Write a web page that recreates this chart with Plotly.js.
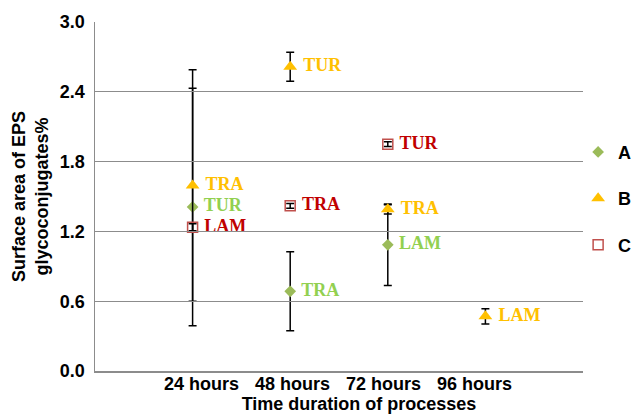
<!DOCTYPE html>
<html>
<head>
<meta charset="utf-8">
<script src="https://cdn.plot.ly/plotly-3.0.1.min.js"></script>
<style>html,body{margin:0;padding:0;background:#fff;}#chart{width:632px;height:417px;}</style>
</head>
<body>
<div id="chart"></div>
<script>
const categories = ['24 hours', '48 hours', '72 hours', '96 hours'];

const seriesA_x = ['24 hours', '48 hours', '72 hours'];
const seriesA_y = [1.41, 0.685, 1.085];
const seriesA_err = [1.02, 0.34, 0.35];
const seriesA_labels = ['TUR', 'TRA', 'LAM'];

const seriesB_x = ['24 hours', '48 hours', '72 hours', '96 hours'];
const seriesB_y = [1.595, 2.615, 1.39, 0.47];
const seriesB_err = [0.995, 0.125, 0.04, 0.065];
const seriesB_labels = ['TRA', 'TUR', 'TRA', 'LAM'];

const seriesC_x = ['24 hours', '48 hours', '72 hours'];
const seriesC_y = [1.235, 1.42, 1.95];
const seriesC_err = [0.03, 0.02, 0.02];
const seriesC_labels = ['LAM', 'TRA', 'TUR'];

const yTicks = [0, 0.6, 1.2, 1.8, 2.4, 3.0];
const yTickText = ['0.0', '0.6', '1.2', '1.8', '2.4', '3.0'];

const labelFont = {family: 'Liberation Serif, Times New Roman, serif', size: 18, weight: 'bold'};
const errStyle = (arr) => ({type: 'data', array: arr, visible: true, color: '#000000', thickness: 1.5, width: 4});

const traces = [
  {
    name: 'A', legendgroup: 'A', type: 'scatter', mode: 'markers+text',
    x: seriesA_x, y: seriesA_y, text: seriesA_labels, texttemplate: '\u00a0%{text}', textposition: 'middle right',
    textfont: Object.assign({color: '#92D050'}, labelFont),
    marker: {symbol: 'diamond', size: 9, color: '#9BBB59'},
    error_y: errStyle(seriesA_err), cliponaxis: false
  },
  {
    name: 'B', legendgroup: 'B', type: 'scatter', mode: 'markers+text',
    x: seriesB_x, y: seriesB_y, text: seriesB_labels, texttemplate: '\u00a0%{text}', textposition: 'middle right',
    textfont: Object.assign({color: '#FFC000'}, labelFont),
    marker: {symbol: 'triangle-up', size: 12, color: '#FFC000'},
    error_y: errStyle(seriesB_err), cliponaxis: false
  },
  {
    name: 'C', legendgroup: 'C', type: 'scatter', mode: 'markers+text',
    x: seriesC_x, y: seriesC_y, text: seriesC_labels, texttemplate: '\u00a0%{text}', textposition: 'middle right',
    textfont: Object.assign({color: '#C00000'}, labelFont),
    marker: {symbol: 'square-open', size: 10, color: '#C0504D', line: {width: 1.5, color: '#C0504D'}},
    error_y: errStyle(seriesC_err), cliponaxis: false
  },
  {
    // carries the category tick labels and axis title only; draws no marks
    name: 'labels', type: 'scatter', mode: 'none', xaxis: 'x2', yaxis: 'y',
    x: categories, y: categories.map(() => null), showlegend: false, hoverinfo: 'skip'
  }
];

const axisFont = {family: 'Liberation Sans, Arial, sans-serif', size: 18, color: '#000000', weight: 'bold'};

const layout = {
  width: 632, height: 417,
  margin: {l: 95, r: 49, t: 22, b: 46, autoexpand: false},
  paper_bgcolor: '#ffffff', plot_bgcolor: 'rgba(0,0,0,0)',
  showlegend: true,
  legend: {
    x: 0.99, xanchor: 'left', y: 0.68, yanchor: 'top',
    font: {family: 'Liberation Sans, Arial, sans-serif', size: 18, color: '#000000', weight: 'bold'},
    tracegroupgap: 20, itemwidth: 30, bgcolor: 'rgba(0,0,0,0)'
  },
  xaxis: {
    type: 'category', categoryorder: 'array', categoryarray: categories,
    range: [-1, 4], showgrid: false, zeroline: false,
    showline: true, linecolor: '#8C8C8C', linewidth: 1.5,
    ticks: '', showticklabels: false
  },
  xaxis2: {
    type: 'category', categoryorder: 'array', categoryarray: categories,
    tickvals: categories, ticktext: categories,
    domain: [0.082, 1], anchor: 'free', position: 0,
    range: [-0.731, 4.192], showgrid: false, zeroline: false, showline: false,
    ticks: '', tickfont: axisFont, ticklabelstandoff: 0,
    title: {text: 'Time duration of processes', font: axisFont, standoff: 0}
  },
  yaxis: {
    range: [0, 3.0], tickvals: yTicks, ticktext: yTickText,
    showgrid: true, gridcolor: '#8C8C8C', gridwidth: 1.3,
    zeroline: false, showline: true, linecolor: '#8C8C8C', linewidth: 1.5,
    ticks: '', tickfont: axisFont, ticklabelstandoff: 5,
    title: {text: 'Surface area of EPS<br>glycoconjugates%', font: axisFont, standoff: 6}
  }
};

Plotly.newPlot('chart', traces, layout, {displayModeBar: false, staticPlot: true});
</script>
</body>
</html>
